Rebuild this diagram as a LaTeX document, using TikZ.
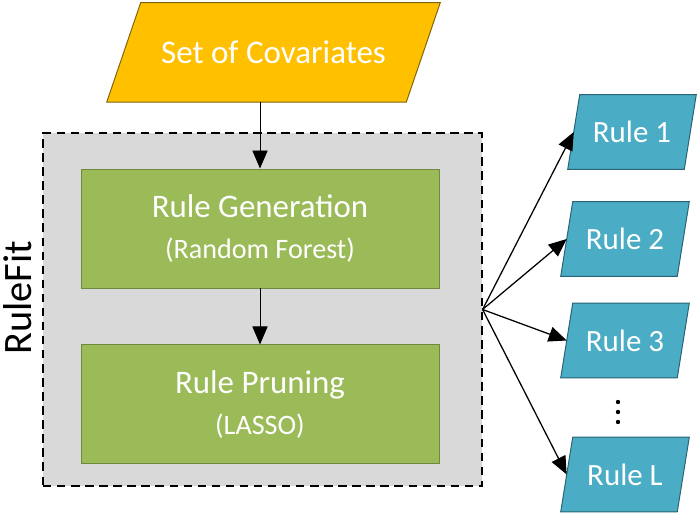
\documentclass[tikz,border=0pt]{standalone}
\usepackage{fontspec}
\setmainfont{Carlito}
\usetikzlibrary{positioning, arrows.meta, backgrounds}
\definecolor{covyellow}{RGB}{255,192,0}
\definecolor{covborder}{RGB}{128,100,10}
\definecolor{stepgreen}{RGB}{155,187,89}
\definecolor{stepborder}{RGB}{113,137,63}
\definecolor{ruleblue}{RGB}{75,172,198}
\definecolor{ruleborder}{RGB}{40,100,115}
\definecolor{fitgray}{RGB}{217,217,217}

\begin{document}
\begin{tikzpicture}[
  every node/.style={text=white},
  stepbox/.style={rectangle, draw=stepborder, fill=stepgreen, line width=0.7pt,
                  minimum width=8.95cm, minimum height=2.975cm, align=center,
                  font=\fontsize{23.4}{28}\selectfont},
  rulebox/.style={rectangle, inner sep=0pt, minimum width=3.2cm, minimum height=1.85cm,
                  font=\fontsize{22}{26}\selectfont},
  arr/.style={-{Triangle[length=0.45cm, width=0.38cm]}, line width=0.6pt}
]
  \useasboundingbox (0,0) rectangle (17.425,-12.875);

  \node[rectangle, inner sep=0pt, minimum width=8.325cm, minimum height=2.475cm,
        font=\fontsize{23.5}{28}\selectfont] (cov) at (6.8375,-1.31) {Set of Covariates};

  \node[rectangle, draw, dash pattern=on 6pt off 4pt, fill=fitgray, line width=0.8pt,
        minimum width=10.975cm, minimum height=8.825cm] (rulefit) at (6.5625,-7.7375) {};
  \node[rotate=90, text=black, font=\fontsize{28.7}{34}\selectfont] (fitlabel) at (0.45,-7.45) {RuleFit};

  \node[stepbox] (gen) at (6.5,-5.7125)
    {Rule Generation\\[1pt] {\fontsize{20}{24}\selectfont (Random Forest)}};
  \node[stepbox, below=1.4cm of gen] (prune)
    {Rule Pruning\\[1pt] {\fontsize{20}{24}\selectfont (LASSO)}};

  \node[rulebox] (r1) at (15.8,-3.3) {Rule 1};
  \node[rulebox] (r2) at (15.625,-5.975) {Rule 2};
  \node[rulebox] (r3) at (15.625,-8.5125) {Rule 3};
  \node[rulebox] (rl) at (15.625,-11.8625) {Rule L};

  % slanted outlines behind the text
  \begin{scope}[on background layer]
    \foreach \n/\s/\c/\d in {cov/0.85/covyellow/covborder, r1/0.3/ruleblue/ruleborder,
                             r2/0.3/ruleblue/ruleborder, r3/0.3/ruleblue/ruleborder,
                             rl/0.3/ruleblue/ruleborder}
      \filldraw[fill=\c, draw=\d, line width=0.7pt]
        ([xshift=\s cm]\n.north west) -- (\n.north east)
        -- ([xshift=-\s cm]\n.south east) -- (\n.south west) -- cycle;
  \end{scope}

  \draw[arr] (cov.south -| gen.north) -- (gen.north);
  \draw[arr] (gen.south) -- (prune.north);

  % vertical dots between Rule 3 and Rule L
  \coordinate (dots) at (15.45,-10.3);
  \foreach \dy in {-0.25, 0, 0.25}
    \fill (dots) ++(0,\dy) circle (0.055);

  \foreach \r in {r1, r2, r3, rl}
    \draw[arr, line width=0.9pt] (rulefit.east) -- ([xshift=0.15cm]\r.west);
\end{tikzpicture}
\end{document}
